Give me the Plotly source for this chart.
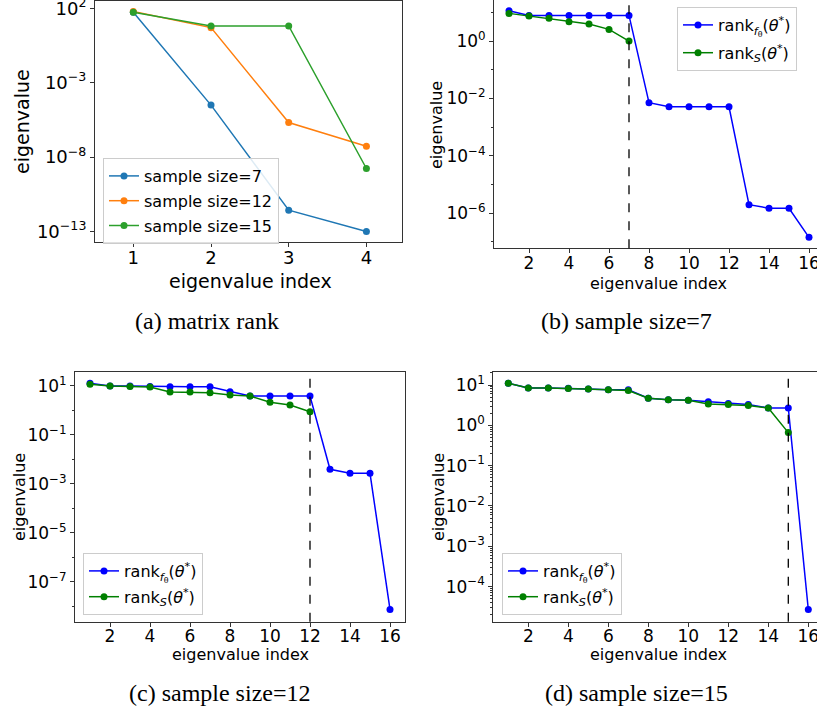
import plotly.graph_objects as go

W, H = 817, 715

# ---------------- data ----------------
idx_a = [1, 2, 3, 4]
a_size7 = [54, 3.1e-5, 2.7e-12, 1.0e-13]
a_size12 = [60, 5.0, 2.1e-6, 5.4e-8]
a_size15 = [54, 6.5, 6.5, 1.7e-9]

idx16 = list(range(1, 17))
b_f = [11.4, 7.8, 7.8, 7.8, 7.8, 7.8, 7.8, 0.0071, 0.0051, 0.0051, 0.0051, 0.0051,
       2.0e-6, 1.5e-6, 1.5e-6, 1.45e-7]
b_s = [9.2, 7.4, 6.2, 4.7, 3.9, 2.55, 1.0]

c_f = [12.5, 9.7, 9.7, 9.3, 9.1, 9.1, 9.1, 5.7, 3.8, 3.8, 3.8, 3.8,
       0.0039, 0.00265, 0.00265, 7.4e-9]
c_s = [11.4, 9.7, 9.3, 8.85, 5.5, 5.5, 5.2, 4.2, 3.8, 2.1, 1.63, 0.87]

d_f = [11.0, 8.4, 8.4, 8.3, 7.95, 7.6, 7.6, 4.7, 4.3, 4.2, 3.85, 3.5, 3.3, 2.7, 2.7, 2.7e-5]
d_s = [11.0, 8.4, 8.4, 8.2, 7.95, 7.6, 7.3, 4.7, 4.3, 4.2, 3.4, 3.3, 3.1, 2.7, 0.66]

rank_lines = [7, 12, 15]
captions = ["(a) matrix rank", "(b) sample size=7", "(c) sample size=12", "(d) sample size=15"]
legend_a = ["sample size=7", "sample size=12", "sample size=15"]
name_f = "rank<sub><i>f</i><sub>θ</sub></sub>(<i>θ</i><sup>*</sup>)"
name_s = "rank<sub><i>S</i></sub>(<i>θ</i><sup>*</sup>)"

# ---------------- helpers ----------------
def px_x(p):
    return p / W

def px_y(p):
    return 1 - p / H

def sup(k):
    s = str(k).replace("-", "−")
    return f"10<sup>{s}</sup>"

FONT = "DejaVu Sans"
TICK_A, TICK_B = 18, 17
LAB_A, LAB_B = 19, 16
fig = go.Figure()

# panel (a)
cols_a = ["#1f77b4", "#ff7f0e", "#2ca02c"]
for name, ys, c in zip(legend_a, [a_size7, a_size12, a_size15], cols_a):
    fig.add_trace(go.Scatter(x=idx_a, y=ys, mode="lines+markers", name=name,
                             line=dict(color=c, width=1.5), marker=dict(color=c, size=7),
                             xaxis="x", yaxis="y", legend="legend", legendgroup=name))

# panels b-d
panels = [("x2", "y2", "legend2", b_f, b_s),
          ("x3", "y3", "legend3", c_f, c_s),
          ("x4", "y4", "legend4", d_f, d_s)]
for xa, ya, lg, f, s in panels:
    fig.add_trace(go.Scatter(x=idx16[:len(f)], y=f, mode="lines+markers", name=name_f,
                             line=dict(color="#0000ff", width=1.5), marker=dict(color="#0000ff", size=7),
                             xaxis=xa, yaxis=ya, legend=lg, legendgroup=lg + "f"))
    fig.add_trace(go.Scatter(x=idx16[:len(s)], y=s, mode="lines+markers", name=name_s,
                             line=dict(color="#008000", width=1.5), marker=dict(color="#008000", size=7),
                             xaxis=xa, yaxis=ya, legend=lg, legendgroup=lg + "s"))

axis_common = dict(showgrid=False, zeroline=False, showline=True, linecolor="#333", linewidth=1,
                   mirror=True, ticks="outside", ticklen=4, tickcolor="#333", color="black",
                   automargin=False, ticklabeloverflow="allow")
xaxis_common = dict(axis_common, ticklabelstandoff=-5)

def yticks(lo, hi, step):
    vals = list(range(hi, lo - 1, -step))
    return [10.0 ** v for v in vals], [sup(v) for v in vals]

tv_a, tt_a = yticks(-13, 2, 5)
tv_b, tt_b = yticks(-6, 0, 2)
tv_c, tt_c = yticks(-7, 1, 2)
tv_d, tt_d = yticks(-4, 1, 1)

minor_b = [10.0 ** v for v in [-7, -5, -3, -1, 1]]
minor_c = [10.0 ** v for v in [-8, -6, -4, -2, 0]]
minor_d = [m * 10.0 ** e for e in range(-5, 2) for m in range(2, 10)]

layout = dict(
    template="none",
    width=W, height=H, margin=dict(l=0, r=0, t=0, b=0, autoexpand=False),
    paper_bgcolor="white", plot_bgcolor="white",
    font=dict(family=FONT, color="black"),
    xaxis=dict(xaxis_common, domain=[px_x(95), px_x(402)], range=[0.507, 4.458],
               tickvals=[1, 2, 3, 4], tickfont=dict(size=TICK_A), anchor="y"),
    yaxis=dict(axis_common, domain=[px_y(242.3), px_y(1)], type="log", range=[-13.73, 2.49],
               tickvals=tv_a, ticktext=tt_a, tickfont=dict(size=TICK_A), anchor="x"),
    xaxis2=dict(xaxis_common, domain=[px_x(494), 1], range=[0.25, 0.25 + (W - 494) / 20],
                tickvals=list(range(2, 17, 2)), tickfont=dict(size=TICK_B), anchor="y2"),
    yaxis2=dict(axis_common, domain=[px_y(248.3), 1], type="log", range=[-7.22, 1.43],
                tickvals=tv_b, ticktext=tt_b, tickfont=dict(size=TICK_B), anchor="x2",
                minor=dict(tickvals=minor_b, ticks="outside", ticklen=2, tickcolor="#333")),
    xaxis3=dict(xaxis_common, domain=[px_x(75), px_x(405)], range=[0.25, 16.75],
                tickvals=list(range(2, 17, 2)), tickfont=dict(size=TICK_B), anchor="y3"),
    yaxis3=dict(axis_common, domain=[px_y(621.7), px_y(371.7)], type="log", range=[-8.63, 1.571],
                tickvals=tv_c, ticktext=tt_c, tickfont=dict(size=TICK_B), anchor="x3",
                minor=dict(tickvals=minor_c, ticks="outside", ticklen=2, tickcolor="#333")),
    xaxis4=dict(xaxis_common, domain=[px_x(493.3), 1], range=[0.25, 0.25 + (W - 493.3) / 20],
                tickvals=list(range(2, 17, 2)), tickfont=dict(size=TICK_B), anchor="y4"),
    yaxis4=dict(axis_common, domain=[px_y(621.7), px_y(371.7)], type="log", range=[-4.87, 1.33],
                tickvals=tv_d, ticktext=tt_d, tickfont=dict(size=TICK_B), anchor="x4",
                minor=dict(tickvals=minor_d, ticks="outside", ticklen=2, tickcolor="#333")),
    showlegend=True,
)

leg_common = dict(bgcolor="rgba(255,255,255,0.85)", bordercolor="#cccccc", borderwidth=1,
                  xanchor="left", yanchor="top")
layout["legend"] = dict(leg_common, x=px_x(103), y=px_y(158), tracegroupgap=1,
                        font=dict(size=16, family=FONT))
layout["legend2"] = dict(leg_common, x=px_x(677), y=px_y(7), tracegroupgap=4,
                         font=dict(size=16, family=FONT))
layout["legend3"] = dict(leg_common, x=px_x(83), y=px_y(553), tracegroupgap=2,
                         font=dict(size=16, family=FONT))
layout["legend4"] = dict(leg_common, x=px_x(502), y=px_y(553), tracegroupgap=2,
                         font=dict(size=16, family=FONT))

fig.update_layout(**layout)

# dashed vertical lines at the rank
for xa, ya, xv in zip(["x2", "x3", "x4"], ["y2", "y3", "y4"], rank_lines):
    fig.add_shape(type="line", xref=xa, yref=ya + " domain", x0=xv, x1=xv, y0=0, y1=1,
                  line=dict(color="black", width=1.3, dash="dash"))

def ann(text, x, y, size, angle=0, family=FONT):
    fig.add_annotation(text=text, x=px_x(x), y=px_y(y), xref="paper", yref="paper",
                       showarrow=False, textangle=angle, xanchor="center", yanchor="middle",
                       font=dict(size=size, family=family, color="black"))

# axis titles
ann("eigenvalue index", 250, 281, LAB_A)
ann("eigenvalue", 22, 122, LAB_A, -90)
ann("eigenvalue index", 658, 283, LAB_B)
ann("eigenvalue", 437, 125, LAB_B, -90)
ann("eigenvalue index", 240, 654, LAB_B)
ann("eigenvalue", 19, 497, LAB_B, -90)
ann("eigenvalue index", 658, 654, LAB_B)
ann("eigenvalue", 438, 497, LAB_B, -90)

# captions
for cap, (cx, cy) in zip(captions, [(207, 321), (626, 321), (219, 693), (636, 693)]):
    ann(cap, cx, cy, 24, family="Liberation Serif")

fig.write_html("out.html", config={"displayModeBar": False},
               post_script="document.body.style.margin='0';document.body.style.overflow='hidden';")
